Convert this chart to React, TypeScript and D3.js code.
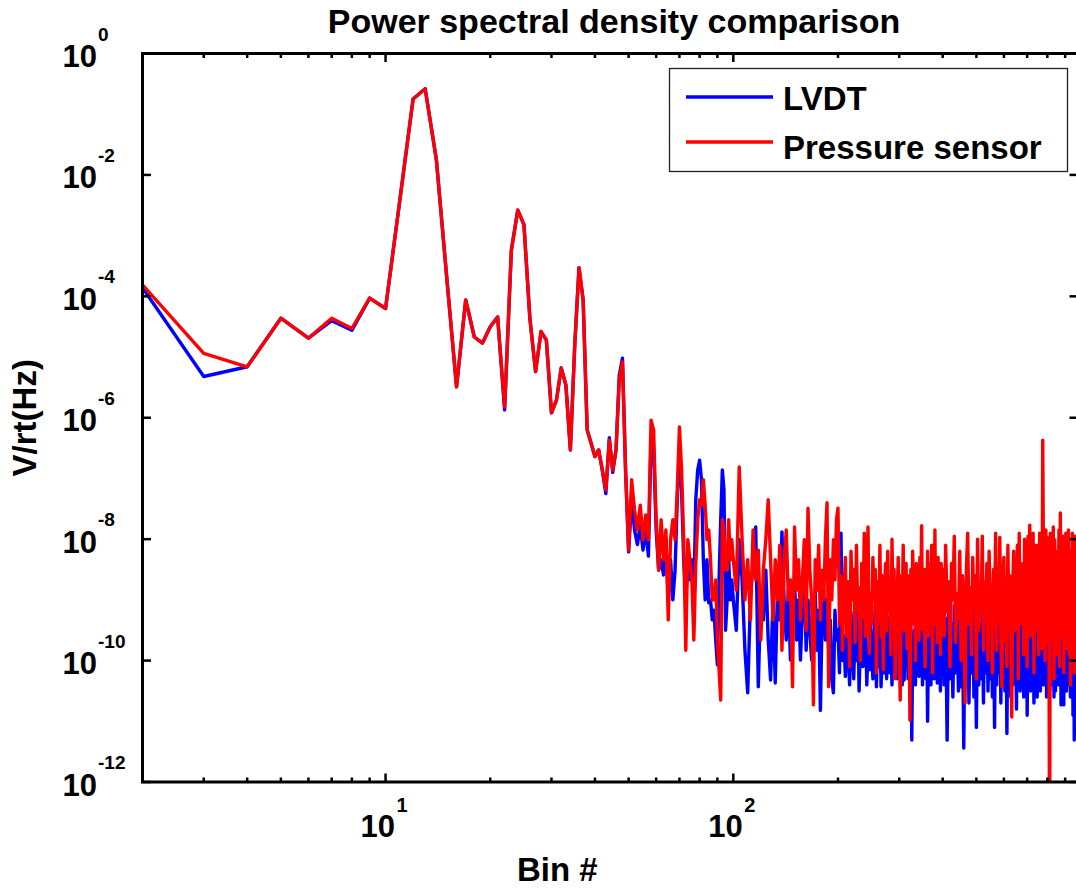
import React from 'react';
import * as d3 from 'd3';

const W = 1076;
const H = 888;

// ---- x categories (FFT bin numbers) ----
const binsLow = d3.range(2, 50);          // 2..49
const binsMid = d3.range(50, 100);        // 50..99
const binsHi1 = d3.range(100, 200, 2);    // 100..198
const binsHi2 = d3.range(200, 400, 2);    // 200..398
const binsHi3 = d3.range(400, 980, 4);    // 400..976

// ---- series values, stored as log10(V/rt(Hz)) ----
const lvdtLow = [-3.86,-5.32,-5.16,-4.36,-4.69,-4.40,-4.56,-4.03,-4.20,-2.40,-0.75,-0.58,-1.75,-3.70,-5.49,-4.06,-4.67,-4.77,-4.50,-4.34,-5.87,-3.24,-2.58,-2.82,-4.36,-5.24,-4.58,-4.72,-5.92,-5.71,-5.18,-5.46,-6.53,-4.80,-3.53,-4.06,-6.20,-6.42,-6.64,-6.53,-6.86,-7.25,-6.33,-6.90,-6.53,-5.30,-5.02,-6.86];
const pressureLow = [-3.81,-4.94,-5.16,-4.36,-4.69,-4.36,-4.53,-4.03,-4.20,-2.40,-0.75,-0.58,-1.75,-3.70,-5.49,-4.06,-4.67,-4.77,-4.50,-4.34,-5.82,-3.24,-2.58,-2.82,-4.36,-5.24,-4.58,-4.72,-5.92,-5.71,-5.18,-5.46,-6.53,-4.80,-3.53,-4.06,-6.20,-6.42,-6.64,-6.53,-6.86,-7.19,-6.37,-6.86,-6.53,-5.38,-5.08,-6.86];

const lvdtMid = [-8.21,-7.35,-7.85,-8.09,-7.77,-8.18,-7.85,-8.28,-6.37,-6.53,-7.85,-8.51,-8.34,-8.59,-8.01,-9.0,-8.34,-9.0,-8.51,-7.35,-6.53,-7.19,-8.34,-9.0,-8.34,-8.67,-8.34,-9.0,-7.35,-6.86,-6.70,-7.02,-8.34,-9.0,-8.34,-9.05,-9.0,-9.33,-9.17,-9.66,-10.07,-8.67,-7.68,-6.86,-7.19,-9.5,-9.0,-8.34,-9.0,-8.67];
const pressureMid = [-8.18,-7.02,-7.52,-7.85,-7.44,-8.01,-7.6,-8.01,-6.04,-6.2,-7.68,-8.51,-7.68,-8.34,-7.85,-9.33,-8.01,-7.68,-8.01,-7.19,-6.15,-6.86,-8.01,-9.83,-8.01,-8.34,-8.67,-9.66,-8.42,-7.68,-7.35,-7.44,-7.02,-7.44,-8.01,-7.85,-8.34,-9.0,-9.0,-8.67,-9.66,-10.15,-10.65,-7.68,-7.85,-8.51,-8.51,-7.68,-8.34,-8.01];

const lvdtHi1 = [-9.0,-9.5,-8.01,-8.67,-9.83,-10.53,-9.0,-8.34,-7.80,-10.43,-8.84,-9.33,-8.51,-9.66,-10.32,-9.0,-10.37,-8.84,-9.33,-7.88,-9.0,-9.66,-8.84,-9.99,-9.33,-8.67,-9.66,-9.0,-9.99,-9.17,-8.67,-9.83,-9.0,-9.5,-9.99,-9.33,-8.84,-9.83,-9.17,-10.82,-9.33,-8.84,-9.66,-9.0,-9.83,-9.33,-10.32,-10.53,-9.17,-9.66];
const pressureHi1 = [-8.34,-8.84,-6.81,-8.01,-9.0,-8.34,-9.33,-7.85,-8.67,-8.18,-9.66,-8.51,-8.01,-7.35,-8.34,-9.33,-8.34,-9.0,-8.10,-9.83,-8.34,-7.85,-9.0,-8.67,-10.43,-7.80,-8.84,-8.34,-9.33,-8.67,-8.01,-9.5,-7.49,-8.51,-9.0,-10.73,-8.34,-8.84,-8.10,-9.33,-8.51,-9.0,-8.01,-7.40,-10.43,-8.34,-9.0,-8.01,-8.67,-7.68];

const lvdtHi2 = [
  -9.5,-10.2,-7.90,-10.0,-9.6,-10.26,-9.3,-9.9,-10.4,-9.2,
  -9.8,-10.3,-9.4,-10.0,-9.1,-10.5,-9.7,-9.3,-10.1,-9.5,
  -9.2,-10.4,-9.8,-10.15,-9.4,-9.9,-10.3,-9.6,-9.1,-10.43,
  -9.5,-10.1,-9.3,-10.43,-9.9,-9.6,-10.2,-9.2,-10.3,-9.7,
  -9.3,-10.2,-9.6,-10.4,-9.2,-9.8,-10.1,-9.5,-10.3,-9.4,
  -9.9,-10.0,-9.3,-10.4,-9.7,-10.32,-9.4,-10.1,-9.2,-10.3,
  -9.6,-10.2,-9.3,-11.31,-9.8,-10.1,-9.5,-10.4,-9.3,-9.9,
  -10.1,-10.26,-9.4,-10.0,-9.6,-10.4,-9.2,-10.2,-9.8,-10.3,
  -9.5,-11.0,-9.7,-10.1,-9.3,-10.4,-9.9,-10.2,-9.4,-10.3,
  -9.6,-10.0,-9.2,-10.37,-9.8,-10.1,-9.4,-10.5,-9.7,-10.2];
const pressureHi2 = [
  -7.49,-9.4,-8.6,-9.83,-8.9,-8.3,-9.6,-8.7,-10.1,-8.2,
  -9.0,-8.5,-9.7,-8.1,-9.2,-8.8,-10.0,-8.4,-9.3,-7.9,
  -9.6,-8.6,-7.80,-9.88,-8.9,-9.4,-8.3,-9.0,-8.5,-10.2,
  -8.7,-9.3,-8.1,-9.6,-8.6,-10.15,-8.9,-8.4,-9.5,-8.2,
  -9.1,-8.7,-9.9,-8.0,-9.3,-8.5,-10.3,-8.8,-9.0,-8.3,
  -9.7,-10.65,-8.6,-9.2,-8.1,-9.5,-8.9,-8.4,-9.8,-8.6,
  -9.1,-10.98,-8.5,-9.4,-8.2,-9.0,-8.7,-10.0,-8.4,-9.3,
  -8.8,-9.66,-8.3,-9.1,-7.78,-9.5,-8.9,-8.5,-10.1,-8.7,
  -9.3,-8.2,-9.6,-8.9,-8.4,-9.2,-8.1,-10.2,-8.6,-9.4,
  -7.85,-9.33,-8.7,-9.7,-8.3,-9.0,-8.6,-9.9,-8.4,-9.2];

const lvdtHi3 = [
  -9.0,-10.4,-9.3,-11.31,-9.2,-10.3,-9.4,-10.6,-9.1,-10.2,
  -9.3,-10.5,-9.0,-10.43,-9.4,-11.44,-9.2,-10.3,-9.1,-10.7,
  -9.4,-10.2,-9.0,-10.6,-9.3,-11.1,-9.2,-10.4,-9.4,-10.3,
  -9.1,-10.7,-9.3,-10.2,-9.0,-10.5,-9.4,-10.3,-9.2,-10.6,
  -9.3,-11.1,-9.1,-10.4,-9.4,-10.2,-9.0,-10.7,-9.2,-10.3,
  -9.4,-10.5,-9.1,-11.2,-9.3,-10.3,-9.0,-10.6,-9.2,-10.4,
  -9.3,-10.2,-9.4,-10.8,-9.1,-10.3,-9.2,-10.5,-9.0,-10.4,
  -9.3,-10.6,-9.1,-10.2,-9.4,-10.9,-9.2,-10.3,-9.0,-10.5,
  -9.3,-10.4,-9.1,-10.7,-9.4,-10.2,-9.0,-10.6,-9.3,-10.3,
  -9.1,-10.5,-9.2,-10.3,-9.0,-10.4,-9.3,-10.2,-9.1,-10.6,
  -9.4,-10.3,-9.0,-10.5,-9.2,-10.2,-9.3,-10.4,-9.1,-10.6,
  -9.0,-10.5,-9.3,-10.2,-9.1,-10.4,-9.2,-10.3,-9.0,-10.73,
  -9.3,-10.2,-9.1,-10.73,-9.4,-10.3,-9.0,-10.5,-9.2,-10.4,
  -9.1,-10.3,-9.3,-10.6,-9.0,-10.4,-9.2,-10.9,-9.1,-11.31,
  -9.2,-10.5,-9.0,-11.0,-9.3];
const pressureHi3 = [
  -8.5,-9.6,-8.1,-9.2,-8.7,-10.1,-8.4,-9.0,-7.95,-9.7,
  -8.9,-9.3,-8.2,-10.0,-8.6,-9.1,-10.7,-8.5,-7.9,-9.4,
  -8.8,-9.9,-8.3,-9.1,-8.6,-10.3,-8.0,-9.5,-8.9,-9.2,
  -7.95,-9.83,-8.7,-9.3,-8.4,-10.0,-8.2,-9.0,-8.8,-10.2,
  -8.5,-9.4,-7.9,-9.83,-8.7,-9.1,-7.97,-9.6,-10.43,-8.6,
  -8.3,-9.7,-8.9,-10.1,-8.1,-9.3,-8.6,-9.66,-10.93,-8.8,
  -8.2,-9.5,-8.6,-9.0,-8.1,-10.3,-7.9,-9.4,-8.7,-9.2,
  -8.4,-9.9,-8.0,-9.3,-8.8,-10.1,-7.95,-9.0,-7.77,-9.6,
  -8.5,-9.2,-7.9,-10.2,-8.6,-9.5,-8.1,-8.9,-8.4,-9.9,
  -7.9,-9.4,-8.3,-9.8,-6.37,-8.6,-8.2,-10.0,-7.85,-9.1,
  -7.97,-9.7,-8.5,-13.5,-7.9,-9.3,-8.4,-9.6,-7.8,-10.3,
  -8.01,-9.2,-8.6,-9.9,-8.2,-9.0,-7.85,-10.1,-7.57,-9.5,
  -8.3,-9.6,-7.95,-10.2,-8.6,-9.1,-7.9,-9.8,-8.4,-9.3,
  -7.85,-9.9,-8.2,-10.4,-8.7,-9.2,-7.9,-9.6,-8.3,-10.2,
  -7.95,-9.83,-8.5,-9.4,-8.0];

// ---- axis ticks / labels ----
const yTickExps = [0, -2, -4, -6, -8, -10, -12];
const xMajorTicks = [10, 100];
const xMajorExps = ['1', '2'];
const xMinorTicks = [3, 4, 5, 6, 7, 8, 9, 20, 30, 40, 50, 60, 70, 80, 90, 200, 300, 400, 500, 600, 700, 800, 900];
const legendNames = ['LVDT', 'Pressure sensor'];
const seriesColors = ['#0000ff', '#ff0000'];
const titleText = 'Power spectral density comparison';
const xLabelText = 'Bin #';
const yLabelText = 'V/rt(Hz)';

const FONT = "'Liberation Sans', Arial, Helvetica, sans-serif";

function build(segs: [number[], number[]][]) {
  const out: [number, number][] = [];
  segs.forEach(([b, v]) => b.forEach((bin, i) => { if (v[i] !== undefined) out.push([bin, v[i]]); }));
  return out;
}

export default function App() {
  const left = 142.5, right = 1078, top = 53.5, bottom = 782;
  const x = d3.scaleLog().domain([2, 980]).range([left, right]);
  const y = d3.scaleLog().domain([1e-12, 1]).range([bottom, top]);

  const lvdt = build([[binsLow, lvdtLow], [binsMid, lvdtMid], [binsHi1, lvdtHi1], [binsHi2, lvdtHi2], [binsHi3, lvdtHi3]]);
  const pressure = build([[binsLow, pressureLow], [binsMid, pressureMid], [binsHi1, pressureHi1], [binsHi2, pressureHi2], [binsHi3, pressureHi3]]);

  const line = d3.line<[number, number]>()
    .x(d => x(d[0]))
    .y(d => y(Math.pow(10, d[1])));

  const majorLen = 8.5, minorLen = 4.5;
  const LW = 3.4;

  return (
    <svg width={W} height={H} style={{ position: 'absolute', left: 0, top: 0, background: '#fff' }}>
      <defs>
        <clipPath id="plotclip">
          <rect x={left} y={top} width={right - left} height={bottom - top} />
        </clipPath>
      </defs>
      <rect x={0} y={0} width={W} height={H} fill="#fff" />

      {/* title */}
      <text x={614} y={33} textAnchor="middle" fontFamily={FONT} fontWeight="bold" fontSize={34}>{titleText}</text>

      {/* data */}
      <g clipPath="url(#plotclip)">
        <path d={line(lvdt) || ''} fill="none" stroke={seriesColors[0]} strokeWidth={LW} strokeLinejoin="round" />
        <path d={line(pressure) || ''} fill="none" stroke={seriesColors[1]} strokeWidth={LW} strokeLinejoin="round" />
      </g>

      {/* axes box */}
      <rect x={left} y={top} width={right - left} height={bottom - top} fill="none" stroke="#000" strokeWidth={3} />

      {/* y ticks */}
      {yTickExps.map(e => {
        const yy = y(Math.pow(10, e));
        return (
          <g key={'y' + e}>
            <line x1={left} x2={left + majorLen} y1={yy} y2={yy} stroke="#000" strokeWidth={2.5} />
            <line x1={right} x2={right - majorLen} y1={yy} y2={yy} stroke="#000" strokeWidth={2.5} />
            <text x={97} y={yy + 13.5} textAnchor="end" fontFamily={FONT} fontWeight="bold" fontSize={31}>10</text>
            <text x={98} y={yy - 13} textAnchor="start" fontFamily={FONT} fontWeight="bold" fontSize={19}>{String(e)}</text>
          </g>
        );
      })}

      {/* x ticks */}
      {xMinorTicks.map(t => {
        const xx = x(t);
        return (
          <g key={'xm' + t}>
            <line x1={xx} x2={xx} y1={bottom} y2={bottom - minorLen} stroke="#000" strokeWidth={2.5} />
            <line x1={xx} x2={xx} y1={top} y2={top + minorLen} stroke="#000" strokeWidth={2.5} />
          </g>
        );
      })}
      {xMajorTicks.map((t, i) => {
        const xx = x(t);
        return (
          <g key={'xM' + t}>
            <line x1={xx} x2={xx} y1={bottom} y2={bottom - majorLen} stroke="#000" strokeWidth={2.5} />
            <line x1={xx} x2={xx} y1={top} y2={top + majorLen} stroke="#000" strokeWidth={2.5} />
            <text x={xx + 9.5} y={837} textAnchor="end" fontFamily={FONT} fontWeight="bold" fontSize={31}>10</text>
            <text x={xx + 11} y={812} textAnchor="start" fontFamily={FONT} fontWeight="bold" fontSize={20}>{xMajorExps[i]}</text>
          </g>
        );
      })}

      {/* axis labels */}
      <text x={517} y={881} textAnchor="start" fontFamily={FONT} fontWeight="bold" fontSize={33}>{xLabelText}</text>
      <text transform={`translate(36,${(top + bottom) / 2}) rotate(-90)`} textAnchor="middle" fontFamily={FONT} fontWeight="bold" fontSize={33}>{yLabelText}</text>

      {/* legend */}
      <g>
        <rect x={669.5} y={68.5} width={398} height={103} fill="#fff" stroke="#222" strokeWidth={1.3} />
        {legendNames.map((n, i) => (
          <g key={n}>
            <line x1={686} x2={773} y1={97 + i * 45} y2={97 + i * 45} stroke={seriesColors[i]} strokeWidth={3.4} />
            <text x={783} y={110 + i * 49} fontFamily={FONT} fontWeight="bold" fontSize={33}>{n}</text>
          </g>
        ))}
      </g>
    </svg>
  );
}
